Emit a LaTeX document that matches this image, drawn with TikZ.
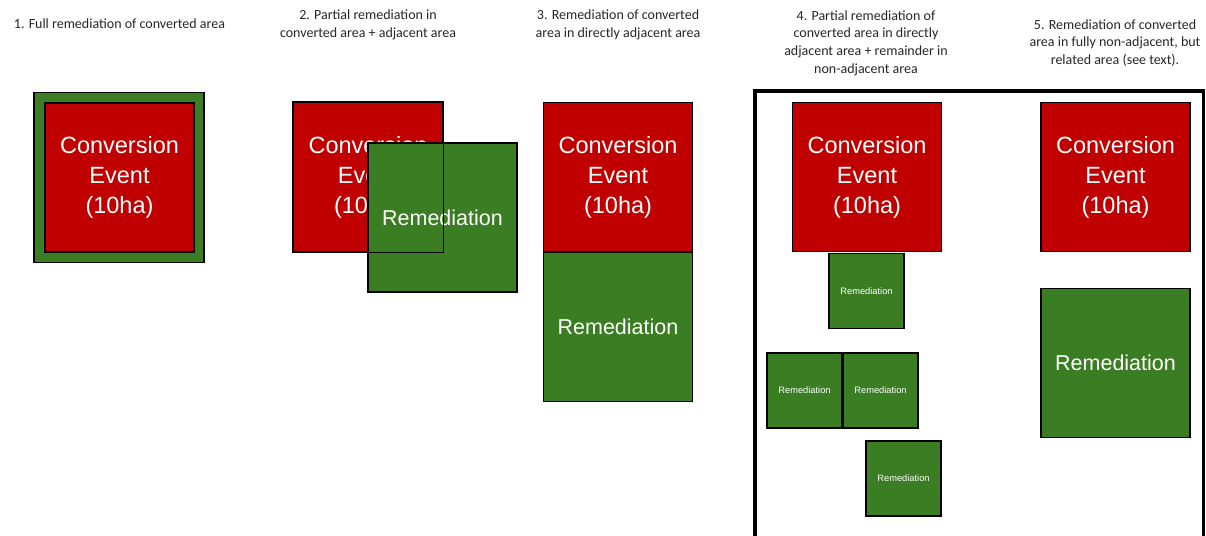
\documentclass[tikz,border=0pt]{standalone}
\usepackage{fontspec}
\setmainfont{Carlito}
\newfontfamily\boxfont{Liberation Sans}
\usepackage{tikz}
\usetikzlibrary{positioning}
\definecolor{convred}{HTML}{C00000}
\definecolor{remgreen}{HTML}{3A7D22}

\begin{document}
\begin{tikzpicture}[x=1pt, y=-1pt,
		title/.style={align=center, font=\fontsize{14}{17.7}\selectfont, text=black!85},
		conv/.style={rectangle, draw=black, fill=convred, line width=1.5pt, minimum width=149pt, minimum height=149pt, text=white, align=center, font=\boxfont\fontsize{23.5}{30}\selectfont},
		remed/.style={rectangle, draw=black, fill=remgreen, line width=1.5pt, minimum width=149pt, minimum height=149pt, text=white, align=center, font=\boxfont\fontsize{21.5}{30}\selectfont},
		smallremed/.style={remed, minimum width=75pt, minimum height=75pt, font=\boxfont\fontsize{9.3}{11}\selectfont}]
		
		\useasboundingbox (0,0) rectangle (1206,535);
		
		% Titles
		\node[title] (t1) at (119.5, 24) {1. Full remediation of converted area};
		\node[title] (t2) at (368, 25) {2. Partial remediation in\\converted area + adjacent area};
		\node[title] (t3) at (618, 25) {3. Remediation of converted\\area in directly adjacent area};
		\node[title] (t4) at (866, 43) {4. Partial remediation of\\converted area in directly\\adjacent area + remainder in\\non-adjacent area};
		\node[title] (t5) at (1115, 43) {5. Remediation of converted\\area in fully non-adjacent, but\\related area (see text).};
		
		% Case 1
		\node[remed, minimum width=170pt, minimum height=170pt] (rem1) at (119, 177.5) {};
		\node[conv] (conv1) at (119.5, 177.5) {Conversion\\Event\\(10ha)};
		
		% Case 2
		\node[conv] (conv2) at (368, 177) {Conversion\\Event\\(10ha)};
		\node[remed] (rem2) at (442.5, 217.5) {Remediation};
		\draw[line width=1.5pt] (conv2.north west) rectangle (conv2.south east);
		
		% Case 3
		\node[conv] (conv3) at (618, 177) {Conversion\\Event\\(10ha)};
		\node[remed] (rem3) at (618, 327) {Remediation};
		
		% Frame round cases 4 and 5
		\draw[line width=3.5pt] (755, 536) |- (1203.5, 91) -- (1203.5, 536);
		
		% Case 4
		\node[conv] (conv4) at (867, 177) {Conversion\\Event\\(10ha)};
		\node[smallremed] (rem4a) at (866.5, 291) {Remediation};
		\node[smallremed] (rem4b) at (804.5, 390.5) {Remediation};
		\node[smallremed] (rem4c) at (880.5, 390.5) {Remediation};
		\node[smallremed] (rem4d) at (903.5, 478.5) {Remediation};
		
		% Case 5
		\node[conv] (conv5) at (1115.5, 177) {Conversion\\Event\\(10ha)};
		\node[remed] (rem5) at (1115.5, 363) {Remediation};
	\end{tikzpicture}
\end{document}
